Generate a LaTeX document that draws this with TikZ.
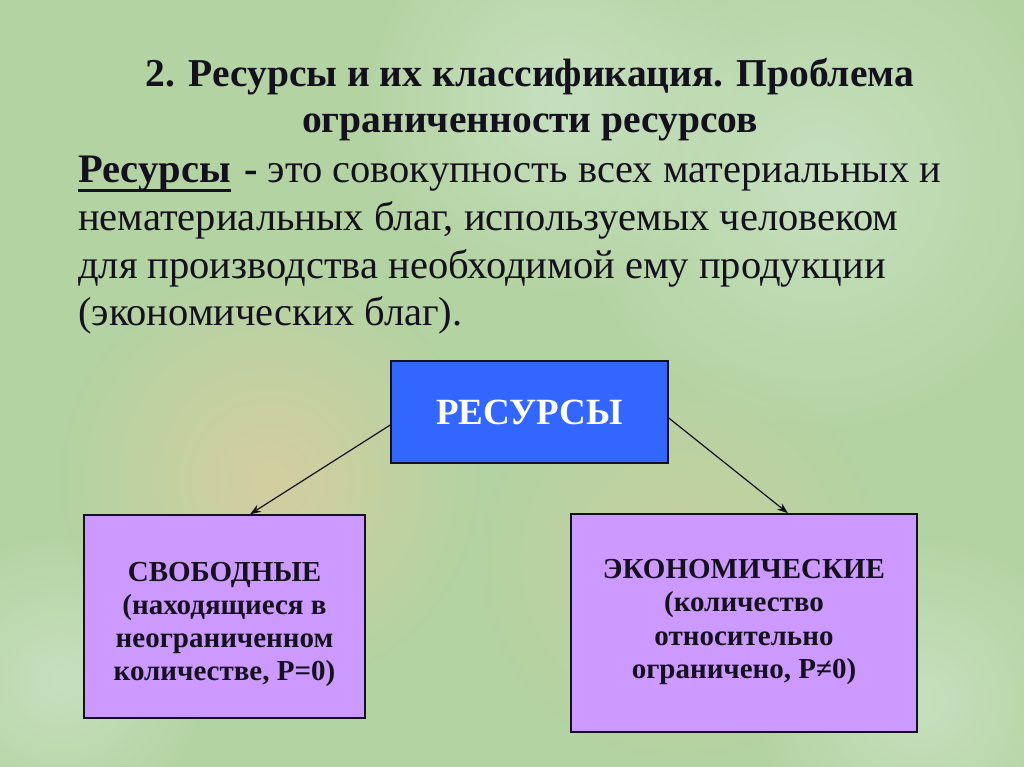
\documentclass[tikz,border=0pt]{standalone}
\usepackage{fontspec}
\setmainfont{Liberation Serif}
\usetikzlibrary{arrows.meta,fadings}
\definecolor{bgc}{RGB}{180,211,162}
\definecolor{peach}{RGB}{212,206,160}
\definecolor{lightg}{RGB}{198,224,190}
\definecolor{boxblue}{RGB}{51,102,255}
\definecolor{boxviolet}{RGB}{204,153,255}
\definecolor{ink}{RGB}{20,16,30}
\tikzfading[name=softblob, inner color=transparent!0, outer color=transparent!100]
\begin{document}
\begin{tikzpicture}[x=1pt,y=-1pt,
  titletext/.style={font=\fontsize{39.5}{45}\selectfont\bfseries, text=ink, inner sep=0pt, anchor=base},
  bodytext/.style={font=\fontsize{40.5}{47}\selectfont, text=ink, inner sep=0pt, anchor=base west},
  topbox/.style={draw=ink, line width=1.5pt, fill=boxblue, inner sep=0pt, text=white,
     font=\fontsize{37}{44}\selectfont\bfseries},
  leafbox/.style={draw=ink, line width=1.5pt, fill=boxviolet, inner sep=0pt},
  leaftext/.style={inner sep=0pt, text=ink, align=center,
     font=\fontsize{29}{33.3}\selectfont\bfseries},
  blob/.style={path fading=softblob},
  conn/.style={draw=ink, line width=1.2pt, -{Stealth[length=11pt,width=8pt]}}]
\useasboundingbox (0,0) rectangle (1024,767);
% background
\fill[bgc] (0,0) rectangle (1024,767);
\fill[lightg, blob] (820,180) circle (260);
\fill[lightg, blob] (560,100) circle (200);
\fill[lightg, blob] (920,700) circle (170);
\fill[lightg, blob] (60,680) circle (150);
\fill[peach, blob] (270,480) circle (210);
\fill[peach, blob, fill opacity=0.6] (680,560) circle (200);
% title
\node[titletext] (t1) at (530,87) {2. Ресурсы и их классификация. Проблема};
\node[titletext] (t2) at (530,133) {ограниченности ресурсов};
% definition
\node[bodytext, font=\fontsize{40.5}{47}\selectfont\bfseries] (r) at (78,183) {Ресурсы};
\draw[ink, line width=3pt] ([yshift=-8pt]r.base west) -- ([yshift=-8pt]r.base east);
\node[bodytext] (l1) at ([xshift=13pt]r.base east) {\textbf{-} это совокупность всех материальных и};
\node[bodytext] (l2) at (78,230) {нематериальных благ, используемых человеком};
\node[bodytext] (l3) at (78,278) {для производства необходимой ему продукции};
\node[bodytext] (l4) at (78,325) {(экономических благ).};
% diagram
\node[topbox, minimum width=277pt, minimum height=102pt] (res) at (529.5,412) {РЕСУРСЫ};
\node[leafbox, minimum width=281pt, minimum height=203pt] (free) at (224.5,616.5) {};
\node[leaftext] (freetext) at ([yshift=-8pt]free.center)
  {СВОБОДНЫЕ\\(находящиеся в\\неограниченном\\количестве, Р=0)};
\node[leafbox, minimum width=346pt, minimum height=218pt] (econ) at (744,623) {};
\node[leaftext] (econtext) at ([yshift=1pt]econ.center)
  {ЭКОНОМИЧЕСКИЕ\\(количество\\относительно\\ограничено, Р≠0)};
\draw[conn] ([yshift=-13pt]res.west) -- ([xshift=25.5pt]free.north);
\draw[conn] ([yshift=-6pt]res.east) -- ([xshift=44pt]econ.north);
\end{tikzpicture}
\end{document}
